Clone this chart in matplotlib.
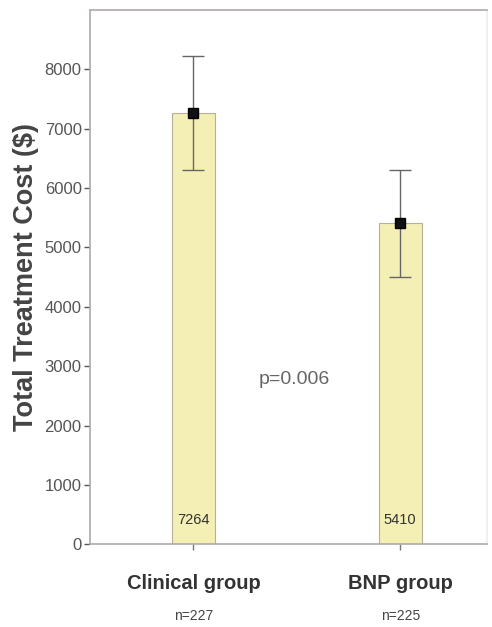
import numpy as np
import matplotlib
matplotlib.use("Agg")
import matplotlib.pyplot as plt

plt.rcParams["font.family"] = ["Liberation Sans", "DejaVu Sans"]

groups = ["Clinical group", "BNP group"]
counts = ["n=227", "n=225"]
means = [7264, 5410]
ci_low = [6310, 4510]
ci_high = [8220, 6310]
p_text = "p=0.006"

fig = plt.figure(figsize=(4.92, 6.27), dpi=100)
ax = fig.add_axes([0.183, 0.132, 0.807, 0.852])

x = np.arange(len(groups))
means_a = np.array(means)
yerr = [means_a - np.array(ci_low), np.array(ci_high) - means_a]
ax.bar(x, means, width=0.21, color="#f4efb4", edgecolor="#b5b09a", lw=0.8, zorder=2)
ax.errorbar(x, means, yerr=yerr, fmt="s", color="black", mfc="#111111", ms=7,
            ecolor="#666666", elinewidth=1, capsize=8, capthick=1, zorder=3)
for xi, m in zip(x, means):
    ax.text(xi, 290, f"{m}", ha="center", va="bottom", fontsize=10.5, color="#333333",
            zorder=4)
ax.text(0.49, 2770, p_text, ha="center", va="center", fontsize=14, color="#666666")

ax.set_xlim(-0.5, 1.42)
ax.set_ylim(0, 9000)
ax.set_yticks(np.arange(0, 8001, 1000))
ax.set_xticks(x)
ax.set_xticklabels([""] * len(groups))
for xi, g, n in zip(x, groups, counts):
    ax.text(xi, -0.074, g, transform=ax.get_xaxis_transform(), ha="center", va="center",
            fontsize=14.5, fontweight="bold", color="#333333")
    ax.text(xi, -0.135, n, transform=ax.get_xaxis_transform(), ha="center", va="center",
            fontsize=10, color="#444444")
ax.tick_params(axis="y", labelsize=12, colors="#555555", length=4, width=1, pad=2)
ax.tick_params(axis="x", length=4, width=1, colors="#777777")
ax.set_ylabel("Total Treatment Cost ($)", fontsize=19.5, fontweight="bold", color="#444444",
              labelpad=4)
for side, sp in ax.spines.items():
    sp.set_color("#b0a8a8")
    sp.set_linewidth(1.2)
ax.spines["right"].set_color("#eeeeee")

fig.savefig("out.png", dpi=100)
